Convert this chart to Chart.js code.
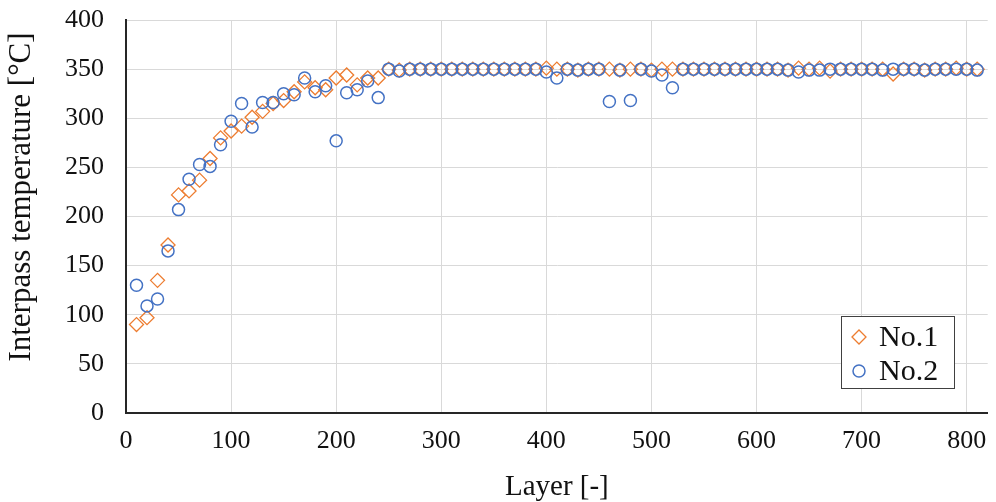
<!DOCTYPE html>
<html>
<head>
<meta charset="utf-8">
<script src="https://cdn.jsdelivr.net/npm/chart.js@4"></script>
<style>
  html, body { margin: 0; padding: 0; background: #fff; }
  #wrap { width: 996px; height: 502px; }
</style>
</head>
<body>
<div id="wrap"><canvas id="myChart" width="996" height="502"></canvas></div>
<script>
// layers (x values)
var layers = [10, 20, 30, 40, 50, 60, 70, 80, 90, 100,
  110, 120, 130, 140, 150, 160, 170, 180, 190, 200,
  210, 220, 230, 240, 250, 260, 270, 280, 290, 300,
  310, 320, 330, 340, 350, 360, 370, 380, 390, 400,
  410, 420, 430, 440, 450, 460, 470, 480, 490, 500,
  510, 520, 530, 540, 550, 560, 570, 580, 590, 600,
  610, 620, 630, 640, 650, 660, 670, 680, 690, 700,
  710, 720, 730, 740, 750, 760, 770, 780, 790, 800, 810];

// No.1 interpass temperature
var no1 = [90, 97, 135, 171, 222, 226, 237, 259, 280, 287,
  292, 301, 307, 315, 318, 327, 337, 331, 329, 341,
  344, 334, 341, 341, 350, 349, 350, 350, 350, 350,
  350, 350, 350, 350, 350, 350, 350, 350, 350, 351,
  350, 350, 349, 350, 350, 350, 349, 350, 350, 349,
  350, 350, 350, 350, 350, 350, 350, 350, 350, 350,
  350, 350, 349, 351, 350, 351, 348, 350, 350, 350,
  350, 350, 345, 350, 350, 349, 350, 350, 351, 350, 350];

// No.2 interpass temperature
var no2 = [130, 109, 116, 165, 207, 238, 253, 251, 273, 297,
  315, 291, 316, 316, 325, 324, 341, 327, 333, 277,
  326, 329, 338, 321, 350, 348, 350, 350, 350, 350,
  350, 350, 350, 350, 350, 350, 350, 350, 350, 347,
  341, 350, 349, 350, 350, 317, 349, 318, 350, 348,
  344, 331, 350, 350, 350, 350, 350, 350, 350, 350,
  350, 350, 349, 347, 349, 349, 350, 350, 350, 350,
  350, 349, 350, 350, 350, 349, 350, 350, 350, 350, 349];

var seriesNames = ['No.1', 'No.2'];
var yTitle = 'Interpass temperature [°C]';
var orange = '#ED7D31';
var blue = '#4472C4';
var fontFam = '"Liberation Serif", "DejaVu Serif", serif';
var textColor = '#111';

function toPoints(ys) {
  return layers.map(function (x, i) { return { x: x, y: ys[i] }; });
}

// y title (placed a bit above the plot centre, like the original) and legend box inside the plot
var extras = {
  id: 'extras',
  afterDraw: function (chart) {
    var c = chart.ctx;
    c.save();
    c.translate(22, 197);
    c.rotate(-Math.PI / 2);
    c.font = '31px ' + fontFam;
    c.fillStyle = textColor;
    c.textAlign = 'center';
    c.textBaseline = 'middle';
    c.fillText(yTitle, 0, 0);
    c.restore();

    var x0 = 841, y0 = 316, w = 113, h = 72;
    c.save();
    c.fillStyle = '#fff';
    c.fillRect(x0, y0, w, h);
    c.strokeStyle = '#404040';
    c.lineWidth = 1;
    c.strokeRect(x0 + 0.5, y0 + 0.5, w, h);
    c.textBaseline = 'middle';
    chart.data.datasets.forEach(function (ds, i) {
      var cy = y0 + 21 + i * 34;
      c.fillStyle = '#fff';
      c.strokeStyle = ds.borderColor;
      c.lineWidth = ds.pointBorderWidth;
      Chart.helpers.drawPoint(c, {
        pointStyle: ds.pointStyle,
        radius: ds.pointRadius,
        borderWidth: ds.pointBorderWidth
      }, x0 + 18, cy);
      c.font = '30px ' + fontFam;
      c.fillStyle = textColor;
      c.fillText(ds.label, x0 + 38, cy + 1);
    });
    c.restore();
  }
};

var ctx = document.getElementById('myChart').getContext('2d');
var myChart = new Chart(ctx, {
  type: 'scatter',
  data: {
    datasets: [{
      label: seriesNames[0],
      data: toPoints(no1),
      pointStyle: 'rectRot',
      pointRadius: 7,
      pointBorderWidth: 1.3,
      borderColor: orange,
      backgroundColor: 'rgba(0,0,0,0)',
      order: 1
    }, {
      label: seriesNames[1],
      data: toPoints(no2),
      pointStyle: 'circle',
      pointRadius: 6,
      pointBorderWidth: 1.5,
      borderColor: blue,
      backgroundColor: 'rgba(0,0,0,0)',
      order: 0
    }]
  },
  options: {
    responsive: false,
    maintainAspectRatio: false,
    animation: false,
    layout: { padding: { left: 0, right: 0, top: 20, bottom: 0 } },
    plugins: {
      legend: { display: false },
      tooltip: { enabled: false }
    },
    scales: {
      x: {
        type: 'linear',
        min: 0,
        max: 820,
        grid: { color: '#d9d9d9', lineWidth: 1, drawTicks: false },
        border: { color: '#262626', width: 2 },
        ticks: {
          stepSize: 100,
          includeBounds: false,
          padding: 13,
          color: textColor,
          font: { family: fontFam, size: 26 }
        },
        title: {
          display: true,
          text: 'Layer [-]',
          color: textColor,
          font: { family: fontFam, size: 29, lineHeight: 1 },
          padding: { top: 2, bottom: 0 }
        },
        afterFit: function (s) {
          s.height = 89;
          s.paddingLeft = 0;
          s.paddingRight = 0;
        }
      },
      y: {
        min: 0,
        max: 400,
        grid: { color: '#d9d9d9', lineWidth: 1, drawTicks: false },
        border: { color: '#262626', width: 2 },
        ticks: {
          stepSize: 50,
          padding: 22,
          color: textColor,
          font: { family: fontFam, size: 26 }
        },
        afterFit: function (s) {
          s.width = 126;
          s.paddingTop = 0;
          s.paddingBottom = 0;
        }
      }
    }
  },
  plugins: [extras]
});
</script>
</body>
</html>
